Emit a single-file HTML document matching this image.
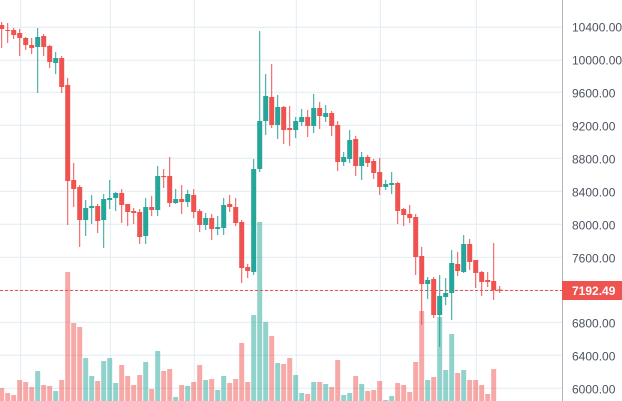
<!DOCTYPE html>
<html><head><meta charset="utf-8"><style>
html,body{margin:0;padding:0;background:#fff;width:622px;height:401px;overflow:hidden}
svg{display:block}
text{font-family:"Liberation Sans",sans-serif;font-size:12px;fill:#4c525e}
</style></head><body>
<svg id="s" width="622" height="401" viewBox="0 0 622 401" xmlns="http://www.w3.org/2000/svg">
<g id="grid" stroke="#e1ecf2" stroke-width="1"></g>
<g id="vol"></g>
<line x1="0" y1="290.5" x2="562" y2="290.5" stroke="#ef5350" stroke-width="1" stroke-dasharray="3,2"/>
<g id="cdl"></g>
<line x1="562.5" y1="0" x2="562.5" y2="401" stroke="#b2b5be" stroke-width="1"/>
<g text-anchor="start">
<text x="572" y="31.5">10400.00</text>
<text x="572" y="64.5">10000.00</text>
<text x="572" y="97.5">9600.00</text>
<text x="572" y="130.5">9200.00</text>
<text x="572" y="163.5">8800.00</text>
<text x="572" y="196.5">8400.00</text>
<text x="572" y="229.5">8000.00</text>
<text x="572" y="262.5">7600.00</text>
<text x="572" y="327.5">6800.00</text>
<text x="572" y="360.5">6400.00</text>
<text x="572" y="393.5">6000.00</text>
</g>
<rect x="562" y="281" width="60" height="19" fill="#ef5350"/>
<text x="572" y="295" style="fill:#fff;font-weight:bold">7192.49</text>
</svg>
<script>
var d=[
['r',25,29,22,48,388],['r',30,30.8,23,43,393],['r',30,35,28,39,395],['r',33,38,29,56,380],['r',38,45,37,50,382],
['r',45,48,38,54,387],['g',37,47,28,93,371],['r',36,47,34,56,385],['r',46,62,45,68,386],['g',58,63,52,74,391],
['r',58,87,56,93,380],['r',85,181,78,225,272],['r',180,189,163,207,323],['r',187,220,185,247,327],['g',208,220,200,236,358],
['g',206,208,195,224,376],['r',206,221,204,233,381],['g',199,220,194,248,361],['g',198,200,180,209,358],['g',193,198,192,211,383],
['r',193,205,189,223,365],['r',204,212,204,226,376],['r',211,213,208,224,385],['r',212,237,209,244,375],['g',207,236,198,244,362],
['r',207,210,196,216,389],['g',176,210,166,216,351],['r',176,177.2,169,188,371],['r',176,203,157,207,369],['g',199,203,189,204,397],
['r',199,202,185,214,385],['g',194,202,190,207,386],['r',195,212,189,218,382],['r',211,225,209,232,365],['g',218,225,213,230,380],
['r',218,229,214,240,379],['g',227,229,216,235,390],['g',205,228,198,235,376],['r',204,207,195,212,383],['r',207,223,198,226,379],
['r',222,268,220,283,343],['r',267,271,264,278,382],['g',169,272,159,275,315],['g',121,169,31,172,222],['g',96,121,74,135,322],
['r',97,125,64,128,336],['g',107,125,95,139,363],['r',107,130,106,144,364],['r',128,130,106,146,358],['g',121,130,117,138,375],
['g',117,122,109,126,393],['r',117,126,110,137,394],['g',108,126,94,133,382],['r',108,116,102,129,382],['g',113,117,105,122,384],
['r',113,126,111,136,387],['r',125,162,121,171,360],['g',157,162,152,166,395],['g',140,159,130,163,393],['r',139,166,136,176,376],
['g',157,166,152,180,384],['r',157,163,155,167,391],['r',161,173,159,179,390],['r',172,187,158,195,381],['g',184,187,180,190,400],
['g',183,185,172,194,396],['r',183,211,182,224,383],['r',209,215,208,226,385],['r',214,218,205,223,392],['r',217,257,214,275,362],
['r',256,284,247,325,311],['g',280,284,277,299,380],['r',279,315,277,318,377],['g',296,315,275,347,317],['g',293,297,278,305,370],
['g',263,293,250,320,334],['r',264,271,252,276,373],['g',244,272,235,273,370],['r',244,262,239,270,380],['r',260,273,260,288,380],
['r',272,282,271,296,385],['r',280,282,272,287,394],['r',281,290,243,300,369],['r',289.5,290.7,286,293,401]
];
var ns='http://www.w3.org/2000/svg';
function el(p,t,a){var e=document.createElementNS(ns,t);for(var k in a)e.setAttribute(k,a[k]);p.appendChild(e);}
var G=document.getElementById('grid');
[27.3,60.3,92.3,125.3,158.3,191.3,224.3,257.3,290.3,322.3,355.3,388.3].forEach(function(y){el(G,'line',{x1:0,x2:562,y1:y,y2:y});});
[20.7,110.3,194.3,296.3,380.3,476.3].forEach(function(x){el(G,'line',{x1:x,x2:x,y1:0,y2:401});});
var V=document.getElementById('vol'),C=document.getElementById('cdl');
d.forEach(function(c,i){
 var x=1.7+6*i,col=c[0]=='r'?'#ef5350':'#26a69a',vc=c[0]=='r'?'rgba(239,83,80,0.5)':'rgba(38,166,154,0.5)';
 if(c[5]<401)el(V,'rect',{x:x-2.5,y:c[5],width:5,height:401-c[5],fill:vc});
 el(C,'rect',{x:x-0.5,y:c[3],width:1,height:c[4]-c[3],fill:col});
 el(C,'rect',{x:x-2.5,y:c[1],width:5,height:Math.max(1,c[2]-c[1]),fill:col});
});
</script>
</body></html>
